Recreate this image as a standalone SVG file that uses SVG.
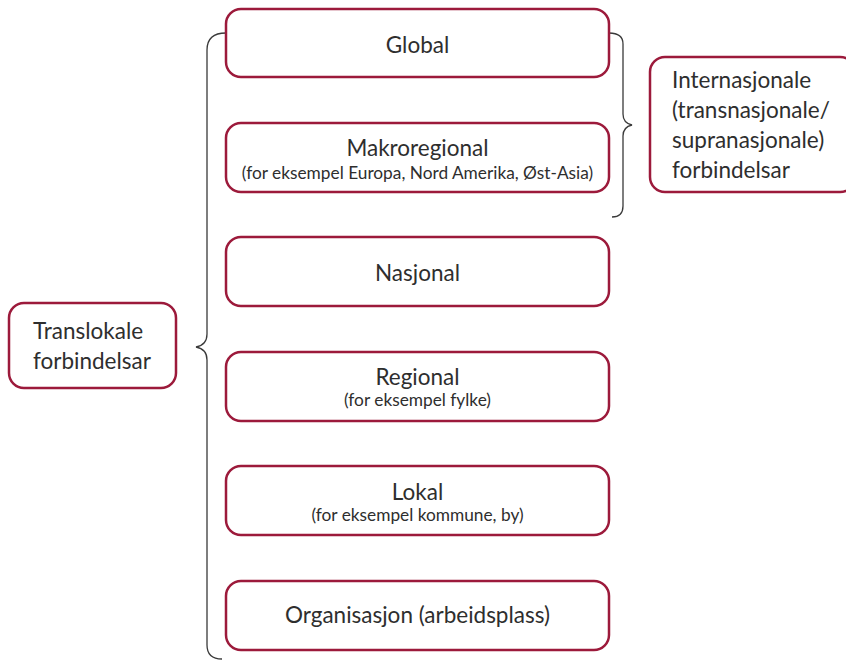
<svg xmlns="http://www.w3.org/2000/svg" width="846" height="660" viewBox="0 0 846 660">
  <style>
    .box { fill: #ffffff; stroke: #9c1a3b; stroke-width: 2.5; }
    .brace { fill: none; stroke: #3a3a3a; stroke-width: 1.3; }
    text { font-family: "Lato", "Open Sans", "Liberation Sans", sans-serif; fill: #2e2e2e; }
    .main { font-size: 22.5px; text-anchor: middle; }
    .sub { font-size: 17.3px; text-anchor: middle; }
    .side { font-size: 22.5px; }
  </style>
  <rect width="846" height="660" fill="#ffffff"/>

  <!-- braces -->
  <g id="connectors">
    <path class="brace" d="M226,33 Q207,33 207,50 L207,334 Q207,345 196,347 Q207,349 207,360 L207,645 Q207,659 222,659"/>
    <path class="brace" d="M609,33 Q623,33 623,44 L623,114 Q623,123 632,125 Q623,127 623,136 L623,206 Q623,217 612,217"/>
  </g>

  <g id="global">
    <rect class="box" x="226" y="9" width="383" height="68" rx="15"/>
    <text class="main" x="417.5" y="53">Global</text>
  </g>
  <g id="makroregional">
    <rect class="box" x="226" y="123" width="383" height="69" rx="15"/>
    <text class="main" x="417.5" y="156">Makroregional</text>
    <text class="sub" x="417.5" y="179">(for eksempel Europa, Nord Amerika, Øst-Asia)</text>
  </g>
  <g id="nasjonal">
    <rect class="box" x="226" y="237" width="383" height="69" rx="15"/>
    <text class="main" x="417.5" y="281">Nasjonal</text>
  </g>
  <g id="regional">
    <rect class="box" x="226" y="352" width="383" height="69" rx="15"/>
    <text class="main" x="417.5" y="385">Regional</text>
    <text class="sub" x="417.5" y="406">(for eksempel fylke)</text>
  </g>
  <g id="lokal">
    <rect class="box" x="226" y="466" width="383" height="69" rx="15"/>
    <text class="main" x="417.5" y="500">Lokal</text>
    <text class="sub" x="417.5" y="521">(for eksempel kommune, by)</text>
  </g>
  <g id="organisasjon">
    <rect class="box" x="226" y="581" width="383" height="69" rx="15"/>
    <text class="main" x="417.5" y="623">Organisasjon (arbeidsplass)</text>
  </g>

  <g id="translokale">
    <rect class="box" x="9" y="303" width="167" height="85" rx="15"/>
    <text class="side" x="33" y="339">Translokale</text>
    <text class="side" x="33" y="369">forbindelsar</text>
  </g>
  <g id="internasjonale">
    <rect class="box" x="650" y="57" width="205" height="135" rx="15"/>
    <text class="side" x="672" y="88">Internasjonale</text>
    <text class="side" x="672" y="118">(transnasjonale/</text>
    <text class="side" x="672" y="148">supranasjonale)</text>
    <text class="side" x="672" y="178">forbindelsar</text>
  </g>
</svg>
